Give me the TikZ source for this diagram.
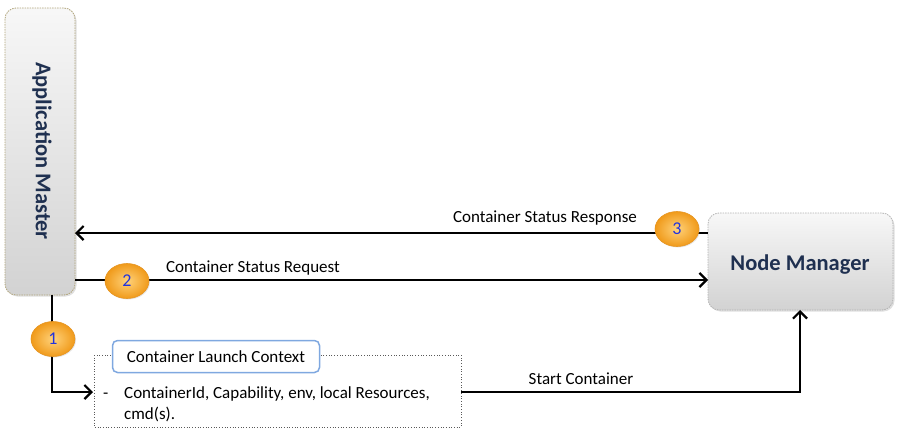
\documentclass[tikz,border=0pt]{standalone}
\usepackage{fontspec}
\setmainfont{Carlito}
\usetikzlibrary{arrows.meta,shadings,shadows,shapes.geometric}
\definecolor{navy}{HTML}{1F3050}
\definecolor{numblue}{HTML}{2233DD}
\definecolor{olive}{HTML}{B0A47A}
\definecolor{lblue}{HTML}{7FA8E0}
\definecolor{orin}{HTML}{FFD27A}
\definecolor{orout}{HTML}{F09A1A}
\tikzset{
  x=1pt,y=-1pt,
  procbox/.style={rounded corners=11pt, top color=gray!6, bottom color=gray!35, dashed, dash pattern=on 1.5pt off 1pt, line width=0.8pt, drop shadow={opacity=0.25,shadow xshift=1.5pt,shadow yshift=-1.5pt}},
  bigtxt/.style={font=\fontsize{22.5}{26}\selectfont\bfseries, text=navy},
  num/.style={ellipse, minimum width=44pt, minimum height=35pt, inner sep=0pt, draw=orout!80!brown, line width=0.6pt, inner color=orin, outer color=orout, font=\fontsize{18}{20}\selectfont, text=numblue, drop shadow={opacity=0.2,shadow xshift=1pt,shadow yshift=-1pt}},
  flow/.style={line width=2.8pt, black, -{Straight Barb[length=7pt,width=14pt,line width=2.2pt]}},
  lbl/.style={font=\fontsize{17}{20}\selectfont, text=black},
}
\begin{document}
\begin{tikzpicture}
\useasboundingbox (0,0) rectangle (900,434);
% Application Master
\draw[procbox, draw=olive] (5,8) rectangle (75,295);
\node[bigtxt, rotate=-90] (amt) at (42,151) {Application Master};
\coordinate (amR) at (75,233);
\coordinate (amR2) at (75,280);
\coordinate (amB) at (52,295);
% Node Manager
\draw[procbox, draw=gray!60] (708,213) rectangle (893,310);
\node[bigtxt] (nmt) at (800,265) {Node Manager};
\coordinate (nmL) at (708,233);
\coordinate (nmL2) at (708,280);
\coordinate (nmB) at (800,310);
% arrows
\draw[flow] (nmL) -- (amR);
\node[lbl] (resp) at (545,218) {Container Status Response};
\draw[flow] (amR2) -- (nmL2);
\node[lbl] (req) at (253,268) {Container Status Request};
% launch context box
\draw[dotted, line width=0.7pt, gray!70!black] (94,355) rectangle (461,427);
\node[draw=lblue, line width=1.5pt, rounded corners=5pt, fill=white, minimum width=207pt, minimum height=32pt, inner sep=0pt, font=\fontsize{17}{20}\selectfont] (clc) at (216,356.5) {Container Launch Context};
\node[lbl, anchor=base west, inner sep=0pt] (dash) at (103,398) {-};
\node[lbl, anchor=base west, inner sep=0pt] (line1) at (124,398) {ContainerId, Capability, env, local Resources,};
\node[lbl, anchor=base west, inner sep=0pt] (line2) at (124,419) {cmd(s).};
\coordinate (boxL) at (93,392);
\coordinate (boxR) at (461,392);
\coordinate (corner1) at (52,392);
\coordinate (corner2) at (800,392);
\draw[flow] (amB) -- (corner1) -- (boxL);
\draw[flow] (boxR) -- (corner2) -- (nmB);
\node[lbl] (start) at (581,379) {Start Container};
% numbered ellipses
\node[num] (n1) at (53,339) {1};
\node[num] (n2) at (127,281) {2};
\node[num] (n3) at (677,229) {3};
\end{tikzpicture}
\end{document}
